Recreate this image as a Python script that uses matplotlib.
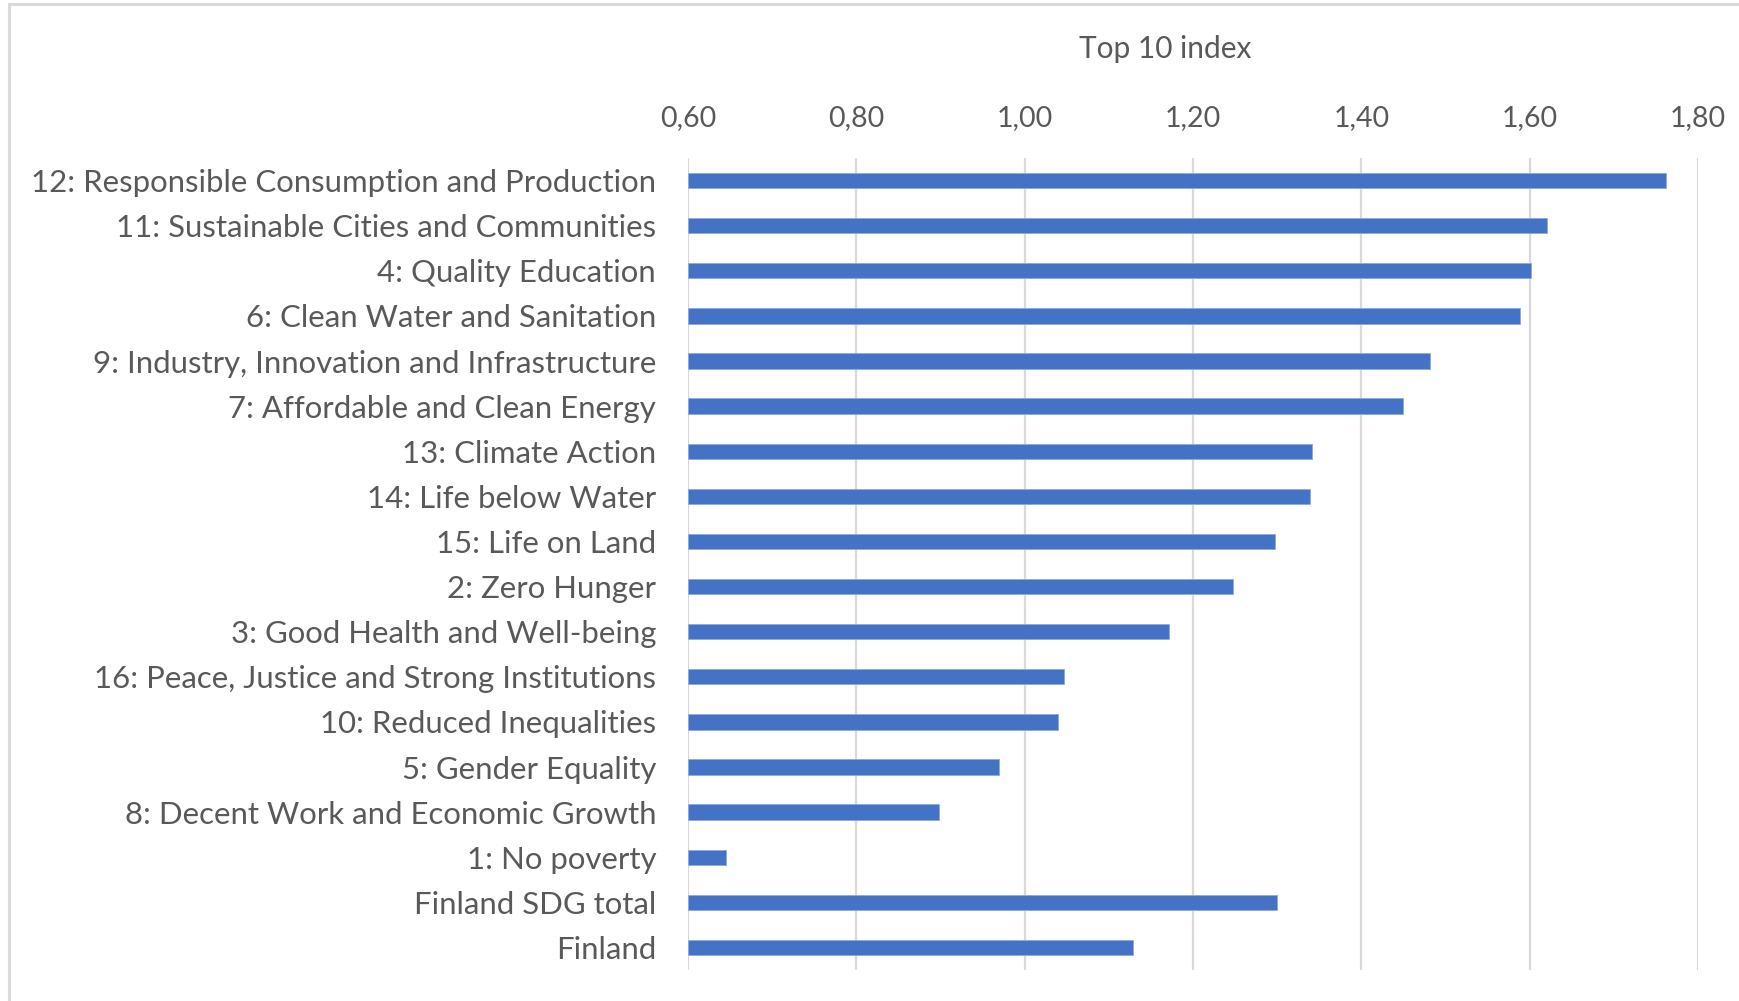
import matplotlib
matplotlib.use("Agg")
import matplotlib.pyplot as plt
import matplotlib.patches as mpatches
from matplotlib.ticker import FuncFormatter, MultipleLocator

# dados (de cima para baixo)
categorias = [
    "12: Responsible Consumption and Production",
    "11: Sustainable Cities and Communities",
    "4: Quality Education",
    "6: Clean Water and Sanitation",
    "9: Industry, Innovation and Infrastructure",
    "7: Affordable and Clean Energy",
    "13: Climate Action",
    "14: Life below Water",
    "15: Life on Land",
    "2: Zero Hunger",
    "3: Good Health and Well-being",
    "16: Peace, Justice and Strong Institutions",
    "10: Reduced Inequalities",
    "5: Gender Equality",
    "8: Decent Work and Economic Growth",
    "1: No poverty",
    "Finland SDG total",
    "Finland",
]
valores = [1.762, 1.621, 1.602, 1.589, 1.481, 1.449, 1.341, 1.339, 1.297,
           1.248, 1.172, 1.047, 1.040, 0.969, 0.898, 0.645, 1.300, 1.129]

X_MIN, X_MAX = 0.60, 1.80
AZUL  = '#4472C4'
CINZA = '#595959'
GRADE = '#D9D9D9'

plt.rcParams['font.family'] = ['Lato', 'DejaVu Sans']

W_PX, H_PX = 1739, 1001
fig = plt.figure(figsize=(W_PX/100, H_PX/100), dpi=100)
fig.patch.set_facecolor('white')

# área do gráfico em pixels
L, R, T, B = 688, 1698, 158, 970
ax = fig.add_axes([L/W_PX, 1 - B/H_PX, (R-L)/W_PX, (B-T)/H_PX])

pos = list(range(len(categorias)))
ax.barh(pos, [v - X_MIN for v in valores], left=X_MIN, height=0.34,
        color=AZUL, edgecolor='#8FAADC', linewidth=0.6, zorder=3)

ax.set_xlim(X_MIN, X_MAX)
ax.set_ylim(len(categorias) - 0.5, -0.5)
ax.set_yticks(pos)
ax.set_yticklabels(categorias)

ax.xaxis.set_major_locator(MultipleLocator(0.2))
ax.xaxis.set_major_formatter(FuncFormatter(lambda v, _: f'{v:.2f}'.replace('.', ',')))
ax.xaxis.tick_top()
ax.xaxis.set_label_position('top')
ax.set_xlabel('Top 10 index', fontsize=21.5, color=CINZA)
ax.xaxis.set_label_coords(0.472, 1.0 + 100/(B-T))

ax.tick_params(axis='x', length=0, pad=19.5, labelsize=20.5, labelcolor=CINZA)
ax.tick_params(axis='y', length=0, pad=23, labelsize=22.4, labelcolor=CINZA)

ax.grid(axis='x', color=GRADE, lw=1.6, zorder=0)
ax.grid(axis='y', visible=False)
for s in ax.spines.values():
    s.set_visible(False)

# moldura externa (só esquerda e topo visíveis)
fig.patches.append(mpatches.Rectangle((9/W_PX, -0.2), 1.5, 1.2 - 3.5/H_PX,
                                      transform=fig.transFigure, fill=False,
                                      ec=GRADE, lw=2.2))

plt.savefig('out.png', dpi=100)
